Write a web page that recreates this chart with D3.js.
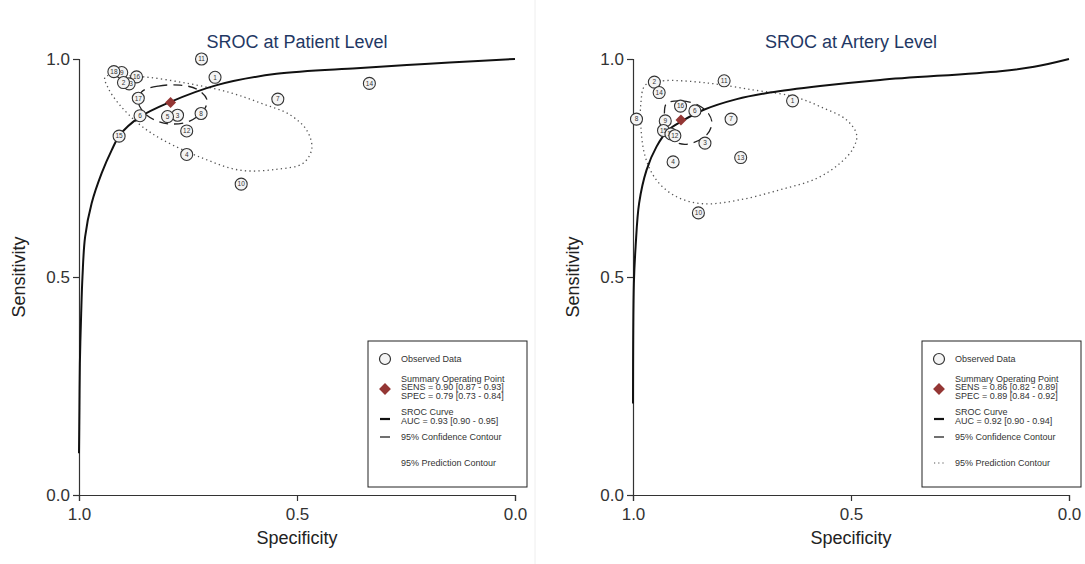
<!DOCTYPE html>
<html>
<head>
<meta charset="utf-8">
<script src="https://cdn.jsdelivr.net/npm/d3@7"></script>
<style>
  body { margin: 0; background: #fff; }
  text { font-family: "Liberation Sans", Arial, sans-serif; }
</style>
</head>
<body>
<script>
// panel titles
var titles = ["SROC at Patient Level", "SROC at Artery Level"];

// study points (label, specificity, sensitivity)
var patientLabels = [9, 18, 16, 13, 2, 17, 6, 15, 3, 5, 8, 12, 4, 10, 11, 1, 7, 14];
var patientSpec   = [0.902, 0.920, 0.868, 0.885, 0.898, 0.864, 0.860, 0.908, 0.774, 0.797, 0.720, 0.753, 0.753, 0.628, 0.719, 0.688, 0.544, 0.334];
var patientSens   = [0.969, 0.971, 0.959, 0.943, 0.946, 0.910, 0.870, 0.823, 0.871, 0.868, 0.875, 0.835, 0.781, 0.713, 1.000, 0.958, 0.908, 0.944];

var arteryLabels = [2, 14, 11, 1, 8, 16, 6, 9, 15, 17, 12, 7, 3, 4, 13, 10];
var arterySpec   = [0.951, 0.940, 0.791, 0.634, 0.992, 0.891, 0.858, 0.926, 0.930, 0.913, 0.904, 0.775, 0.835, 0.908, 0.753, 0.850];
var arterySens   = [0.947, 0.923, 0.950, 0.904, 0.862, 0.892, 0.881, 0.858, 0.836, 0.828, 0.824, 0.862, 0.807, 0.764, 0.774, 0.647];

// summary operating points [spec, sens]
var patientSummary = [0.79, 0.90];
var arterySummary  = [0.89, 0.86];

// SROC curves [spec, sens]
var patientCurve = [[1.0, 0.096], [0.999, 0.20], [0.998, 0.302], [0.995, 0.417], [0.992, 0.501],
  [0.986, 0.592], [0.971, 0.669], [0.948, 0.738], [0.925, 0.791], [0.906, 0.826], [0.862, 0.866],
  [0.794, 0.900], [0.684, 0.940], [0.547, 0.966], [0.363, 0.979], [0.248, 0.986], [0.15, 0.992], [0.0, 1.0]];
var arteryCurve = [[1.0, 0.21], [0.998, 0.486], [0.994, 0.570], [0.986, 0.669], [0.969, 0.745],
  [0.946, 0.799], [0.919, 0.837], [0.887, 0.858], [0.839, 0.883], [0.762, 0.908], [0.686, 0.923],
  [0.571, 0.938], [0.433, 0.952], [0.158, 0.972], [0.08, 0.982], [0.0, 1.0]];

// 95% confidence contours [spec, sens]
var patientConf = [[0.856, 0.925], [0.818, 0.938], [0.768, 0.940], [0.730, 0.931], [0.707, 0.908],
  [0.711, 0.887], [0.745, 0.858], [0.791, 0.851], [0.826, 0.860], [0.853, 0.879], [0.864, 0.902]];
var arteryConf = [[0.923, 0.898], [0.888, 0.904], [0.850, 0.894], [0.827, 0.875], [0.819, 0.853],
  [0.831, 0.826], [0.873, 0.805], [0.904, 0.810], [0.923, 0.833], [0.928, 0.872]];

// 95% prediction contours [spec, sens]
var patientPred = [[0.940, 0.959], [0.853, 0.959], [0.745, 0.943], [0.654, 0.923], [0.581, 0.898],
  [0.516, 0.872], [0.478, 0.837], [0.466, 0.795], [0.486, 0.761], [0.547, 0.747], [0.631, 0.745],
  [0.715, 0.772], [0.807, 0.814], [0.860, 0.849], [0.906, 0.894], [0.933, 0.933]];
var arteryPred = [[0.972, 0.940], [0.931, 0.950], [0.839, 0.946], [0.724, 0.929], [0.632, 0.914],
  [0.571, 0.891], [0.510, 0.860], [0.487, 0.826], [0.495, 0.795], [0.525, 0.761], [0.579, 0.726],
  [0.663, 0.700], [0.755, 0.677], [0.839, 0.668], [0.900, 0.684], [0.946, 0.722], [0.972, 0.776],
  [0.982, 0.845], [0.982, 0.898]];

// legend texts
var patientLegend = ["SENS = 0.90 [0.87 - 0.93]", "SPEC = 0.79 [0.73 - 0.84]", "AUC = 0.93 [0.90 - 0.95]"];
var arteryLegend  = ["SENS = 0.86 [0.82 - 0.89]", "SPEC = 0.89 [0.84 - 0.92]", "AUC = 0.92 [0.90 - 0.94]"];

var axisTicks = [0, 0.5, 1];

var svg = d3.select("body").append("svg")
    .attr("width", 1085)
    .attr("height", 564);

// faint panel separator
svg.append("line")
    .attr("x1", 535).attr("x2", 535)
    .attr("y1", 0).attr("y2", 564)
    .style("stroke", "#eeeeee");

var size = 436;

function drawPanel(left, title, labels, spec, sens, summary, curve, conf, pred, legendText, showPredSymbol) {
  var g = svg.append("g").attr("transform", "translate(" + left + ",59)");

  var x = d3.scaleLinear().domain([1, 0]).range([0, size]);
  var y = d3.scaleLinear().domain([0, 1]).range([size, 0]);

  // title
  g.append("text")
      .attr("x", size / 2)
      .attr("y", -11)
      .style("text-anchor", "middle")
      .style("font-size", "18px")
      .style("fill", "#1f3864")
      .text(title);

  // axes
  var xAxis = g.append("g")
      .attr("transform", "translate(0," + size + ")")
      .call(d3.axisBottom(x).tickValues(axisTicks).tickFormat(d3.format(".1f")).tickSizeOuter(0).tickSize(6));
  var yAxis = g.append("g")
      .call(d3.axisLeft(y).tickValues(axisTicks).tickFormat(d3.format(".1f")).tickSizeOuter(0).tickSize(6));
  [xAxis, yAxis].forEach(function(a) {
    a.selectAll("path, line").style("stroke", "#333").style("stroke-width", 1.2);
    a.selectAll("text").style("font-size", "17px").style("fill", "#333")
      .style("font-family", "'Liberation Sans', Arial, sans-serif");
  });
  xAxis.selectAll("text").attr("dy", "0.95em");

  // axis labels
  g.append("text")
      .attr("x", size / 2)
      .attr("y", size + 49)
      .style("text-anchor", "middle")
      .style("font-size", "18px")
      .style("fill", "#222")
      .text("Specificity");
  g.append("text")
      .attr("transform", "rotate(-90)")
      .attr("x", -size / 2)
      .attr("y", -54)
      .style("text-anchor", "middle")
      .style("font-size", "18px")
      .style("fill", "#222")
      .text("Sensitivity");

  // prediction contour
  g.append("path")
      .datum(pred)
      .style("fill", "none")
      .style("stroke", "#555")
      .style("stroke-width", 1.3)
      .style("stroke-dasharray", "1.3,3.2")
      .attr("d", d3.line().x(function(d) { return x(d[0]); }).y(function(d) { return y(d[1]); })
        .curve(d3.curveCatmullRomClosed));

  // confidence contour
  g.append("path")
      .datum(conf)
      .style("fill", "none")
      .style("stroke", "#222")
      .style("stroke-width", 1.3)
      .style("stroke-dasharray", "9,6")
      .attr("d", d3.line().x(function(d) { return x(d[0]); }).y(function(d) { return y(d[1]); })
        .curve(d3.curveCatmullRomClosed));

  // SROC curve
  g.append("path")
      .datum(curve)
      .style("fill", "none")
      .style("stroke", "#111")
      .style("stroke-width", 2)
      .attr("d", d3.line().x(function(d) { return x(d[0]); }).y(function(d) { return y(d[1]); })
        .curve(d3.curveCatmullRom));

  // observed studies
  var pts = g.selectAll(".study")
      .data(labels)
      .enter().append("g")
      .attr("class", "study")
      .attr("transform", function(d, i) { return "translate(" + x(spec[i]) + "," + y(sens[i]) + ")"; });
  pts.append("circle")
      .attr("r", 6)
      .style("fill", "#f4f4f4")
      .style("stroke", "#333")
      .style("stroke-width", 1.1);
  pts.append("text")
      .attr("dy", "0.35em")
      .style("text-anchor", "middle")
      .style("font-size", "6.5px")
      .style("fill", "#333")
      .text(function(d) { return d; });

  // summary point
  g.append("path")
      .attr("transform", "translate(" + x(summary[0]) + "," + y(summary[1]) + ") rotate(45)")
      .attr("d", d3.symbol().type(d3.symbolSquare).size(60))
      .style("fill", "#943634");

  // legend
  var lx = 289, ly = 282;
  var lg = g.append("g").attr("transform", "translate(" + lx + "," + ly + ")");
  lg.append("rect")
      .attr("width", 159)
      .attr("height", 146)
      .style("fill", "white")
      .style("stroke", "#222")
      .style("stroke-width", 1);
  lg.append("circle")
      .attr("cx", 17).attr("cy", 18).attr("r", 5.5)
      .style("fill", "#f4f4f4").style("stroke", "#333").style("stroke-width", 1.2);
  lg.append("path")
      .attr("transform", "translate(17,48) rotate(45)")
      .attr("d", d3.symbol().type(d3.symbolSquare).size(70))
      .style("fill", "#943634");
  lg.append("line")
      .attr("x1", 12).attr("x2", 22).attr("y1", 78).attr("y2", 78)
      .style("stroke", "#111").style("stroke-width", 2.2);
  lg.append("line")
      .attr("x1", 12).attr("x2", 22).attr("y1", 96).attr("y2", 96)
      .style("stroke", "#222").style("stroke-width", 1.3);
  if (showPredSymbol) {
    lg.append("line")
        .attr("x1", 12).attr("x2", 23).attr("y1", 122).attr("y2", 122)
        .style("stroke", "#555").style("stroke-width", 1.2).style("stroke-dasharray", "1.2,3");
  }
  var legendRows = [
    ["Observed Data", 21],
    ["Summary Operating Point", 40.5],
    [legendText[0], 49],
    [legendText[1], 57.5],
    ["SROC Curve", 74],
    [legendText[2], 82.5],
    ["95% Confidence Contour", 99],
    ["95% Prediction Contour", 125]
  ];
  lg.selectAll(".lt")
      .data(legendRows)
      .enter().append("text")
      .attr("class", "lt")
      .attr("x", 33)
      .attr("y", function(d) { return d[1]; })
      .style("font-size", "9px")
      .style("fill", "#333")
      .text(function(d) { return d[0]; });
}

drawPanel(79, titles[0], patientLabels, patientSpec, patientSens, patientSummary,
  patientCurve, patientConf, patientPred, patientLegend, false);
drawPanel(633, titles[1], arteryLabels, arterySpec, arterySens, arterySummary,
  arteryCurve, arteryConf, arteryPred, arteryLegend, true);
</script>
</body>
</html>
